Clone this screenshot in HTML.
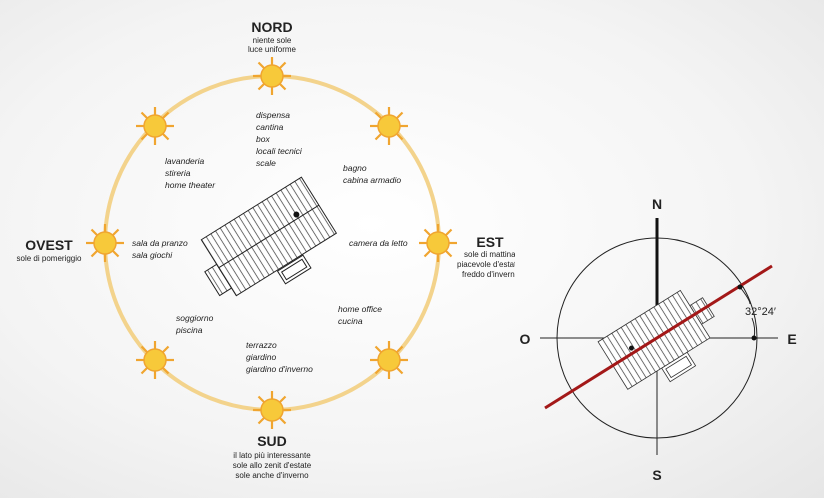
<!DOCTYPE html>
<html><head><meta charset="utf-8"><style>
body{margin:0;width:824px;height:498px;overflow:hidden;background:radial-gradient(ellipse at 45% 45%,#ffffff 0%,#f4f4f4 60%,#e6e6e6 100%);}
svg{display:block}
text{font-family:"Liberation Sans",sans-serif;fill:#222}
.it{font-style:italic;font-size:8.5px}
.sm{font-size:8px}
.big{font-size:14px;font-weight:bold}
</style></head><body>
<svg width="824" height="498" viewBox="0 0 824 498">
<defs>
<g id="sun">
 <g stroke="#f0a530" stroke-width="2.2">
  <line x1="0" y1="-19" x2="0" y2="-11"/><line x1="0" y1="19" x2="0" y2="11"/>
  <line x1="-19" y1="0" x2="-11" y2="0"/><line x1="19" y1="0" x2="11" y2="0"/>
  <line x1="-13.5" y1="-13.5" x2="-8" y2="-8"/><line x1="13.5" y1="13.5" x2="8" y2="8"/>
  <line x1="-13.5" y1="13.5" x2="-8" y2="8"/><line x1="13.5" y1="-13.5" x2="8" y2="-8"/>
 </g>
 <circle r="11" fill="#f7c93a" stroke="#f0a530" stroke-width="1.5"/>
</g>
<pattern id="hatch" width="5.5" height="5.5" patternUnits="userSpaceOnUse">
 <rect width="5.5" height="5.5" fill="#fff"/><line x1="2.75" y1="0" x2="2.75" y2="5.5" stroke="#333" stroke-width="0.7"/>
</pattern>
</defs>

<circle cx="272" cy="243" r="167" fill="none" stroke="#f3d38c" stroke-width="4"/>
<use href="#sun" x="272" y="76"/><use href="#sun" x="389" y="126"/>
<use href="#sun" x="438" y="243"/><use href="#sun" x="389" y="360"/>
<use href="#sun" x="272" y="410"/><use href="#sun" x="155" y="360"/>
<use href="#sun" x="105" y="243"/><use href="#sun" x="155" y="126"/>

<!-- left house -->
<g transform="translate(268,237) rotate(-32)" stroke="#222" stroke-width="1">
 <rect x="-72" y="-4" width="14" height="28" fill="url(#hatch)"/>
 <rect x="-10" y="34" width="30" height="15" fill="#fff"/>
 <rect x="-7" y="37" width="24" height="9" fill="none"/>
 <rect x="-58" y="-33" width="118" height="66" fill="url(#hatch)"/>
 <line x1="-58" y1="0" x2="60" y2="0"/>
 <circle cx="36" cy="-4" r="3" fill="#111" stroke="none"/>
</g>

<!-- titles -->
<text x="272" y="32" class="big" text-anchor="middle">NORD</text>
<text x="272" y="43" class="sm" text-anchor="middle">niente sole</text>
<text x="272" y="52" class="sm" text-anchor="middle">luce uniforme</text>
<text x="49" y="250" class="big" text-anchor="middle">OVEST</text>
<text x="49" y="261" class="sm" text-anchor="middle">sole di pomeriggio</text>
<text x="272" y="446" class="big" text-anchor="middle">SUD</text>
<text x="272" y="458" class="sm" text-anchor="middle">il lato più interessante</text>
<text x="272" y="468" class="sm" text-anchor="middle">sole allo zenit d'estate</text>
<text x="272" y="478" class="sm" text-anchor="middle">sole anche d'inverno</text>
<svg x="450" y="228" width="65" height="60" overflow="hidden">
<text x="40" y="19" class="big" text-anchor="middle">EST</text>
<text x="14" y="29" class="sm">sole di mattina</text>
<text x="7" y="39" class="sm">piacevole d'estate</text>
<text x="12" y="49" class="sm">freddo d'inverno</text>
</svg>

<!-- room labels -->
<text class="it" x="256" y="118">dispensa</text>
<text class="it" x="256" y="130">cantina</text>
<text class="it" x="256" y="142">box</text>
<text class="it" x="256" y="154">locali tecnici</text>
<text class="it" x="256" y="166">scale</text>
<text class="it" x="165" y="164">lavanderia</text>
<text class="it" x="165" y="176">stireria</text>
<text class="it" x="165" y="188">home theater</text>
<text class="it" x="343" y="171">bagno</text>
<text class="it" x="343" y="183">cabina armadio</text>
<text class="it" x="349" y="246">camera da letto</text>
<text class="it" x="132" y="246">sala da pranzo</text>
<text class="it" x="132" y="258">sala giochi</text>
<text class="it" x="176" y="321">soggiorno</text>
<text class="it" x="176" y="333">piscina</text>
<text class="it" x="338" y="312">home office</text>
<text class="it" x="338" y="324">cucina</text>
<text class="it" x="246" y="348">terrazzo</text>
<text class="it" x="246" y="360">giardino</text>
<text class="it" x="246" y="372">giardino d'inverno</text>

<!-- compass -->
<circle cx="657" cy="338" r="100" fill="none" stroke="#222" stroke-width="1"/>
<line x1="540" y1="338" x2="778" y2="338" stroke="#222" stroke-width="1"/>
<line x1="657" y1="338" x2="657" y2="455" stroke="#222" stroke-width="1"/>
<line x1="657" y1="218" x2="657" y2="338" stroke="#111" stroke-width="3"/>
<g transform="translate(657,338) rotate(-32)" stroke="#333" stroke-width="0.8">
 <rect x="45" y="-10" width="15" height="22" fill="url(#hatch)"/>
 <rect x="-12" y="28" width="30" height="16" fill="#fff"/>
 <rect x="-9" y="31" width="24" height="10" fill="none"/>
 <rect x="-52" y="-28" width="97" height="56" fill="url(#hatch)"/>
 <circle cx="-27" cy="-5" r="2.5" fill="#111" stroke="none"/>
</g>
<line x1="545" y1="408" x2="772" y2="266" stroke="#a31818" stroke-width="3"/>
<path d="M740 287 Q750 300 750 304 M752 318 Q756 328 754 338" fill="none" stroke="#222" stroke-width="1"/>
<circle cx="740" cy="287" r="2.5" fill="#111"/>
<circle cx="754" cy="338" r="2.5" fill="#111"/>
<text x="745" y="315" font-size="11">32°24′</text>
<text x="657" y="209" class="big" font-size="17" text-anchor="middle">N</text>
<text x="657" y="480" class="big" font-size="17" text-anchor="middle">S</text>
<text x="525" y="344" class="big" font-size="17" text-anchor="middle">O</text>
<text x="792" y="344" class="big" font-size="17" text-anchor="middle">E</text>
</svg>
</body></html>
